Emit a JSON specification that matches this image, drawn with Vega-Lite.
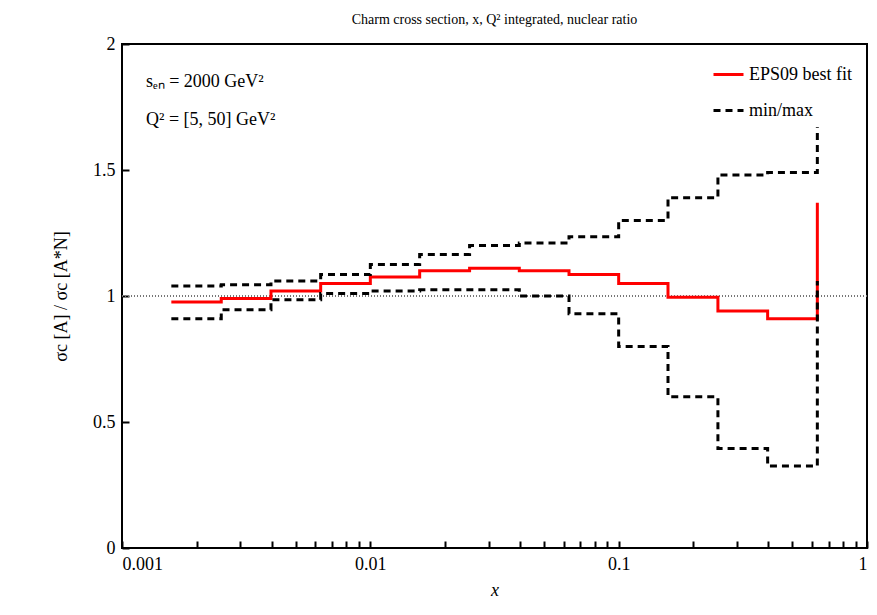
{
  "$schema": "https://vega.github.io/schema/vega-lite/v6.json",
  "autosize": "none",
  "width": 745,
  "height": 504,
  "padding": {"left": 122, "top": 44, "right": 10, "bottom": 67},
  "config": {
    "view": {"stroke": "black", "strokeWidth": 2}
  },
  "title": {"text": "Charm cross section, x, Q² integrated, nuclear ratio", "font": "Liberation Serif", "fontSize": 14, "fontWeight": "normal", "offset": 8, "color": "black"},
  "data": {
    "values": [
      {"curve": "best", "series": "EPS09 best fit", "i": 1, "x": 0.00158, "y": 0.976},
      {"curve": "best", "series": "EPS09 best fit", "i": 2, "x": 0.00251, "y": 0.99},
      {"curve": "best", "series": "EPS09 best fit", "i": 3, "x": 0.00398, "y": 1.02},
      {"curve": "best", "series": "EPS09 best fit", "i": 4, "x": 0.00631, "y": 1.05},
      {"curve": "best", "series": "EPS09 best fit", "i": 5, "x": 0.01, "y": 1.075},
      {"curve": "best", "series": "EPS09 best fit", "i": 6, "x": 0.0158, "y": 1.1},
      {"curve": "best", "series": "EPS09 best fit", "i": 7, "x": 0.0251, "y": 1.11},
      {"curve": "best", "series": "EPS09 best fit", "i": 8, "x": 0.0398, "y": 1.1},
      {"curve": "best", "series": "EPS09 best fit", "i": 9, "x": 0.0631, "y": 1.085},
      {"curve": "best", "series": "EPS09 best fit", "i": 10, "x": 0.1, "y": 1.05},
      {"curve": "best", "series": "EPS09 best fit", "i": 11, "x": 0.158, "y": 0.995},
      {"curve": "best", "series": "EPS09 best fit", "i": 12, "x": 0.251, "y": 0.94},
      {"curve": "best", "series": "EPS09 best fit", "i": 13, "x": 0.398, "y": 0.91},
      {"curve": "best", "series": "EPS09 best fit", "i": 14, "x": 0.631, "y": 0.91},
      {"curve": "best", "series": "EPS09 best fit", "i": 15, "x": 0.631, "y": 1.37},
      {"curve": "max", "series": "min/max", "i": 1, "x": 0.00158, "y": 1.04},
      {"curve": "max", "series": "min/max", "i": 2, "x": 0.00251, "y": 1.045},
      {"curve": "max", "series": "min/max", "i": 3, "x": 0.00398, "y": 1.06},
      {"curve": "max", "series": "min/max", "i": 4, "x": 0.00631, "y": 1.085},
      {"curve": "max", "series": "min/max", "i": 5, "x": 0.01, "y": 1.125},
      {"curve": "max", "series": "min/max", "i": 6, "x": 0.0158, "y": 1.165},
      {"curve": "max", "series": "min/max", "i": 7, "x": 0.0251, "y": 1.2},
      {"curve": "max", "series": "min/max", "i": 8, "x": 0.0398, "y": 1.21},
      {"curve": "max", "series": "min/max", "i": 9, "x": 0.0631, "y": 1.235},
      {"curve": "max", "series": "min/max", "i": 10, "x": 0.1, "y": 1.3},
      {"curve": "max", "series": "min/max", "i": 11, "x": 0.158, "y": 1.39},
      {"curve": "max", "series": "min/max", "i": 12, "x": 0.251, "y": 1.48},
      {"curve": "max", "series": "min/max", "i": 13, "x": 0.398, "y": 1.49},
      {"curve": "max", "series": "min/max", "i": 14, "x": 0.631, "y": 1.49},
      {"curve": "max", "series": "min/max", "i": 15, "x": 0.631, "y": 1.67},
      {"curve": "min", "series": "min/max", "i": 1, "x": 0.00158, "y": 0.91},
      {"curve": "min", "series": "min/max", "i": 2, "x": 0.00251, "y": 0.945},
      {"curve": "min", "series": "min/max", "i": 3, "x": 0.00398, "y": 0.985},
      {"curve": "min", "series": "min/max", "i": 4, "x": 0.00631, "y": 1.01},
      {"curve": "min", "series": "min/max", "i": 5, "x": 0.01, "y": 1.02},
      {"curve": "min", "series": "min/max", "i": 6, "x": 0.0158, "y": 1.025},
      {"curve": "min", "series": "min/max", "i": 7, "x": 0.0251, "y": 1.025},
      {"curve": "min", "series": "min/max", "i": 8, "x": 0.0398, "y": 1.0},
      {"curve": "min", "series": "min/max", "i": 9, "x": 0.0631, "y": 0.93},
      {"curve": "min", "series": "min/max", "i": 10, "x": 0.1, "y": 0.8},
      {"curve": "min", "series": "min/max", "i": 11, "x": 0.158, "y": 0.6},
      {"curve": "min", "series": "min/max", "i": 12, "x": 0.251, "y": 0.395},
      {"curve": "min", "series": "min/max", "i": 13, "x": 0.398, "y": 0.325},
      {"curve": "min", "series": "min/max", "i": 14, "x": 0.631, "y": 0.325},
      {"curve": "min", "series": "min/max", "i": 15, "x": 0.631, "y": 1.06}
    ]
  },
  "layer": [
    {
      "mark": {"type": "rule", "color": "#777", "strokeWidth": 1, "strokeDash": [1, 2]},
      "encoding": {"y": {"datum": 1, "type": "quantitative"}}
    },
    {
      "mark": {"type": "line", "interpolate": "step-after", "strokeWidth": 3},
      "encoding": {
        "x": {
          "field": "x", "type": "quantitative",
          "scale": {"type": "log", "domain": [0.001, 1], "nice": false},
          "title": "x",
          "axis": {
            "values": [0.001, 0.002, 0.003, 0.004, 0.005, 0.006, 0.007, 0.008, 0.009, 0.01, 0.02, 0.03, 0.04, 0.05, 0.06, 0.07, 0.08, 0.09, 0.1, 0.2, 0.3, 0.4, 0.5, 0.6, 0.7, 0.8, 0.9, 1],
            "labelExpr": "indexof(['0.001','0.01','0.1','1'], datum.label) >= 0 ? datum.label : ''",
            "format": "~g",
            "domain": false, "grid": false, "tickColor": "black", "tickWidth": 2, "tickSize": -7,
            "labelFont": "Liberation Serif", "labelFontSize": 18, "labelColor": "black", "labelPadding": 14,
            "titleFont": "Liberation Serif", "titleFontSize": 18, "titleColor": "black", "titleFontWeight": "normal",
            "titleFontStyle": "italic", "titlePadding": 8
          }
        },
        "y": {
          "field": "y", "type": "quantitative",
          "scale": {"domain": [0, 2], "nice": false},
          "title": "σc [A] / σc [A*N]",
          "axis": {
            "values": [0, 0.5, 1, 1.5, 2], "format": "~g",
            "domain": false, "grid": false, "tickColor": "black", "tickWidth": 2, "tickSize": -7,
            "labelFont": "Liberation Serif", "labelFontSize": 18, "labelColor": "black", "labelPadding": 14,
            "titleFont": "Liberation Serif", "titleFontSize": 18, "titleColor": "black", "titleFontWeight": "normal",
            "titlePadding": 22
          }
        },
        "order": {"field": "i", "type": "quantitative"},
        "detail": {"field": "curve"},
        "color": {
          "field": "series", "type": "nominal",
          "scale": {"domain": ["EPS09 best fit", "min/max"], "range": ["#ff0000", "black"]},
          "legend": {"title": null, "orient": "top-right", "labelFontSize": 18, "labelFont": "Liberation Serif", "labelColor": "black", "symbolSize": 900, "symbolStrokeWidth": 3, "rowPadding": 10, "offset": 14}
        },
        "strokeDash": {
          "field": "series", "type": "nominal",
          "scale": {"domain": ["EPS09 best fit", "min/max"], "range": [[1, 0], [7, 5]]},
          "legend": null
        }
      }
    },
    {
      "data": {"values": [{"label": "sₑₙ = 2000 GeV²", "x": 0.00125, "y": 1.85}, {"label": "Q² = [5, 50] GeV²", "x": 0.00125, "y": 1.7}]},
      "mark": {"type": "text", "align": "left", "fontSize": 18, "font": "Liberation Serif", "fontWeight": "normal", "color": "black"},
      "encoding": {
        "x": {"field": "x", "type": "quantitative"},
        "y": {"field": "y", "type": "quantitative"},
        "text": {"field": "label"}
      }
    }
  ]
}
